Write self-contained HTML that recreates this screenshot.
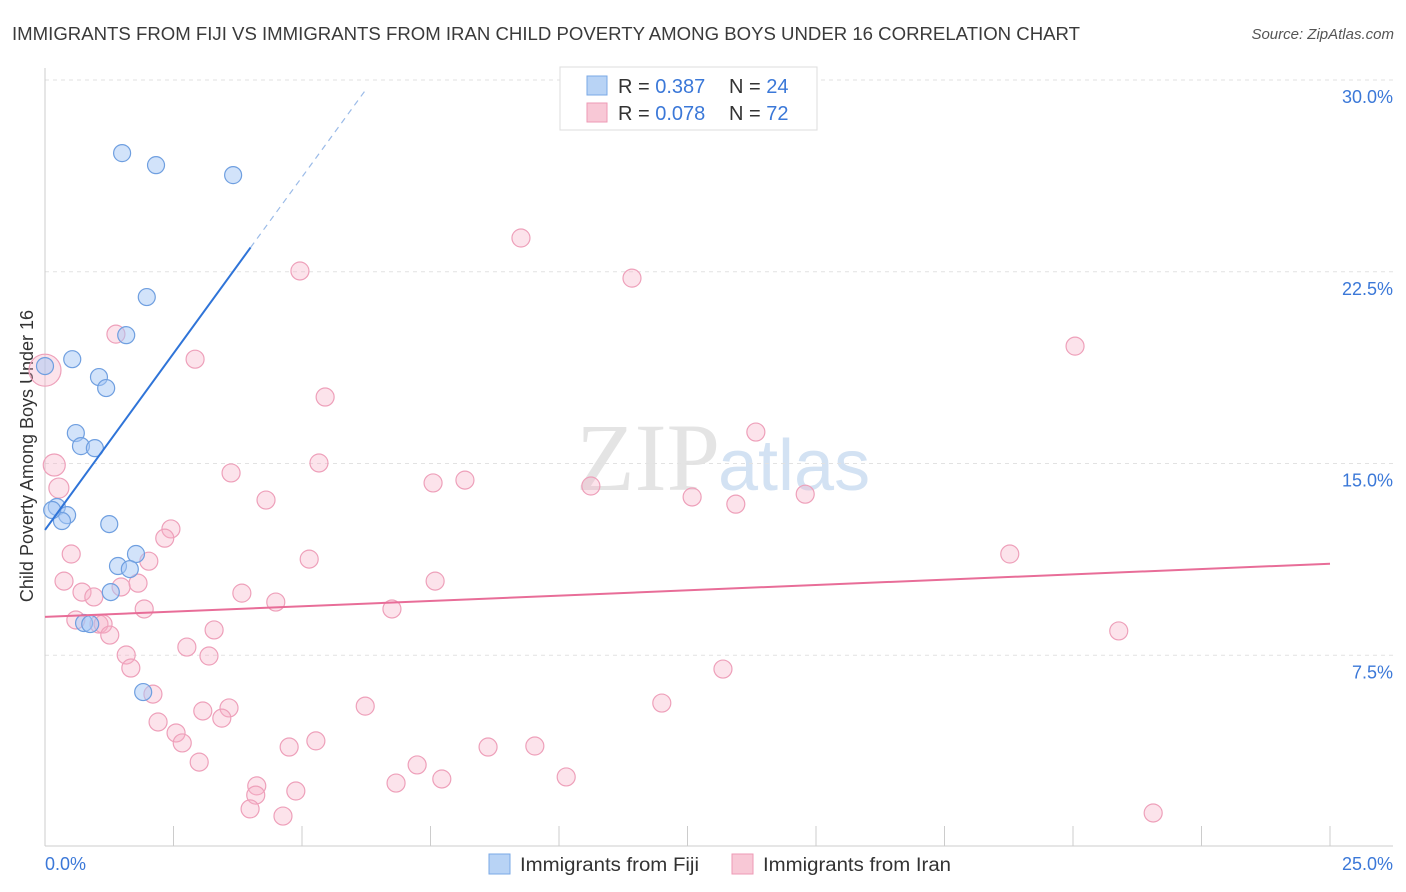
<!DOCTYPE html>
<html><head><meta charset="utf-8"><style>
body{margin:0;background:#fff;font-family:"Liberation Sans",sans-serif;}
svg{display:block}
</style></head><body>
<svg width="1406" height="892">
<text x="12" y="40" font-size="18" fill="#3a3a3a" textLength="1068" lengthAdjust="spacingAndGlyphs">IMMIGRANTS FROM FIJI VS IMMIGRANTS FROM IRAN CHILD POVERTY AMONG BOYS UNDER 16 CORRELATION CHART</text>
<text x="1394" y="39" font-size="15" fill="#555" font-style="italic" text-anchor="end">Source: ZipAtlas.com</text>
<text x="720" y="490" font-size="96" fill="#e4e4e4" text-anchor="end" font-family="Liberation Serif,serif">ZIP</text>
<text x="718" y="490" font-size="72" fill="#d3e2f3">atlas</text>
<g id="grid"></g>
<line x1="45" y1="68" x2="45" y2="846" stroke="#ccc"/>
<line x1="45" y1="846" x2="1393" y2="846" stroke="#ccc"/>
<g id="ticks"></g>
<text transform="translate(33,456) rotate(-90)" font-size="18" fill="#333" text-anchor="middle">Child Poverty Among Boys Under 16</text>
<text x="45" y="870" font-size="18" fill="#3b78d8">0.0%</text>
<text x="1393" y="870" font-size="18" fill="#3b78d8" text-anchor="end">25.0%</text>
<g id="marks"></g>
<g>
<rect x="560" y="67" width="257" height="63" fill="#fff" stroke="#ddd"/>
<rect x="587" y="76" width="20" height="19" fill="#b8d3f5" stroke="#7aa8e6"/>
<rect x="587" y="103" width="20" height="19" fill="#f8c8d6" stroke="#ee9ab5"/>
<text x="618" y="93" font-size="20" fill="#333">R = <tspan fill="#3b78d8">0.387</tspan><tspan x="729">N = </tspan><tspan fill="#3b78d8">24</tspan></text>
<text x="618" y="120" font-size="20" fill="#333">R = <tspan fill="#3b78d8">0.078</tspan><tspan x="729">N = </tspan><tspan fill="#3b78d8">72</tspan></text>
</g>
<g><rect x="489" y="854" width="21" height="20" fill="#b8d3f5" stroke="#7aa8e6"/><text x="520" y="871" font-size="19" fill="#333" textLength="179" lengthAdjust="spacingAndGlyphs">Immigrants from Fiji</text></g>
<g><rect x="732" y="854" width="21" height="20" fill="#f8c8d6" stroke="#ee9ab5"/><text x="763" y="871" font-size="19" fill="#333" textLength="188" lengthAdjust="spacingAndGlyphs">Immigrants from Iran</text></g>
</svg>
<script>
const yTicks=[7.5,15,22.5,30];
const yTickLabels=["7.5%","15.0%","22.5%","30.0%"];
const xTicks=[0,2.5,5,7.5,10,12.5,15,17.5,20,22.5,25];
const fijiX=[1.50,2.16,3.66,1.98,1.58,0.53,0.0,1.05,1.19,0.60,0.70,0.97,0.23,0.43,0.33,1.25,1.77,1.42,1.65,1.28,0.76,0.88,1.91,0.14];
const fijiY=[27.14,26.67,26.28,21.51,20.02,19.08,18.81,18.38,17.95,16.19,15.68,15.60,13.30,12.98,12.75,12.63,11.46,10.99,10.87,9.97,8.76,8.72,6.06,13.18];
const iranX=[0.0,0.18,0.27,1.38,2.92,4.96,9.26,11.42,20.04,5.45,13.83,5.33,3.62,7.55,8.17,10.62,12.59,13.44,14.79,4.30,2.45,2.33,0.51,2.02,5.14,18.77,0.37,1.81,1.48,7.59,0.72,0.95,3.83,4.49,1.93,6.75,0.60,1.05,1.13,1.26,3.29,20.89,2.76,1.58,3.19,1.67,13.19,2.10,12.00,6.23,3.07,3.58,2.20,3.44,2.55,2.67,4.75,5.27,8.62,9.53,3.00,7.24,10.14,6.83,7.72,4.12,4.88,4.10,3.99,4.63,21.56];
const iranY=[18.65,14.94,14.04,20.06,19.08,22.53,23.82,22.25,19.59,17.60,16.23,15.02,14.63,14.24,14.35,14.12,13.69,13.41,13.80,13.57,12.44,12.08,11.46,11.18,11.26,11.46,10.40,10.32,10.17,10.40,9.97,9.78,9.93,9.58,9.31,9.31,8.88,8.72,8.72,8.29,8.49,8.45,7.82,7.51,7.47,7.00,6.96,5.98,5.63,5.51,5.32,5.44,4.89,5.04,4.46,4.07,3.91,4.15,3.91,3.95,3.32,3.21,2.74,2.50,2.66,2.39,2.19,2.03,1.49,1.21,1.33];
const fijiTrend=[[0,12.4],[4.0,23.45],[6.27,29.7]];
const iranTrend=[[0,9.0],[25,11.08]];
const NS="http://www.w3.org/2000/svg";
const xs=v=>45+v*(1285/25);
const ys=v=>847-v*(767/30);
function mk(t,a,p){const e=document.createElementNS(NS,t);for(const k in a)e.setAttribute(k,a[k]);document.getElementById(p).appendChild(e);return e;}
yTicks.forEach((t,i)=>{
 const l=mk('line',{x1:45,x2:1393,y1:ys(t),y2:ys(t),stroke:'#e2e2e2','stroke-dasharray':'4,4'},'grid');
 
 
 const tx=mk('text',{x:1393,y:ys(t)+23,'font-size':18,fill:'#3b78d8','text-anchor':'end'},'ticks');
 tx.textContent=yTickLabels[i];
 
 
});
xTicks.forEach(t=>{
 const l=mk('line',{x1:xs(t),x2:xs(t),y1:826,y2:846,stroke:'#ccc'},'ticks');
 
 
});
iranX.forEach((x,i)=>{
 const r=i===0?16:(i===1?11:(i===2?10:9));
 const c=mk('circle',{cx:xs(x),cy:ys(iranY[i]),r:r,fill:'rgba(245,175,198,0.35)',stroke:'#eea0ba','stroke-width':1.2},'marks');
 
 
});
fijiX.forEach((x,i)=>{
 const c=mk('circle',{cx:xs(x),cy:ys(fijiY[i]),r:8.5,fill:'rgba(165,200,245,0.5)',stroke:'#6f9fe0','stroke-width':1.2},'marks');
 
 
});
const fs=mk('line',{x1:xs(fijiTrend[0][0]),y1:ys(fijiTrend[0][1]),x2:xs(fijiTrend[1][0]),y2:ys(fijiTrend[1][1]),stroke:'#2f74d8','stroke-width':2},'marks');


const fd=mk('line',{x1:xs(fijiTrend[1][0]),y1:ys(fijiTrend[1][1]),x2:xs(fijiTrend[2][0]),y2:ys(fijiTrend[2][1]),stroke:'#9bbbe8','stroke-width':1.2,'stroke-dasharray':'6,5'},'marks');


const it=mk('line',{x1:xs(iranTrend[0][0]),y1:ys(iranTrend[0][1]),x2:xs(iranTrend[1][0]),y2:ys(iranTrend[1][1]),stroke:'#e86d98','stroke-width':2},'marks');


</script>
</body></html>
